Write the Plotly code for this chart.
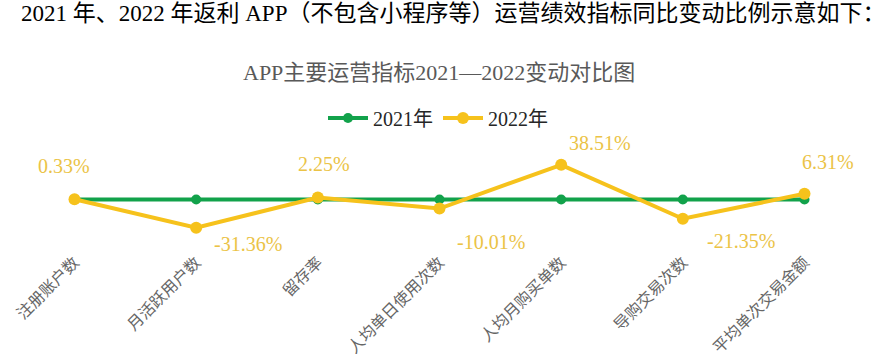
import plotly.graph_objects as go

categories = ["注册账户数", "月活跃用户数", "留存率", "人均单日使用次数", "人均月购买单数", "导购交易次数", "平均单次交易金额"]
values_2021 = [0, 0, 0, 0, 0, 0, 0]
values_2022 = [0.33, -31.36, 2.25, -10.01, 38.51, -21.35, 6.31]
labels_2022 = ["0.33%", "-31.36%", "2.25%", "-10.01%", "38.51%", "-21.35%", "6.31%"]
series_names = ["2021年", "2022年"]

# label offsets in px (style)
label_dx = [-11, 52, 6, 51, 39, 58, 23]
label_dy = [33, -16, 33, -33, 22, -22, 32]

GREEN = "#12A24B"
YELLOW = "#F6C21C"
LABEL = "#EBC346"
CJK = "Liberation Serif, Noto Sans CJK SC, serif"

W, H = 891, 359
T, B = 150, 110
L, R = 38, 50
plot_h = H - T - B
plot_w = W - L - R

def py(pixel_y):
    return (H - B - pixel_y) / plot_h

def px(pixel_x):
    return (pixel_x - L) / plot_w

fig = go.Figure()
fig.add_trace(go.Scatter(
    x=categories, y=values_2021, name=series_names[0], mode="lines+markers",
    line=dict(color=GREEN, width=4), marker=dict(color=GREEN, size=10),
))
fig.add_trace(go.Scatter(
    x=categories, y=values_2022, name=series_names[1], mode="lines+markers",
    line=dict(color=YELLOW, width=4), marker=dict(color=YELLOW, size=12),
))

for c, v, t, dx, dy in zip(categories, values_2022, labels_2022, label_dx, label_dy):
    fig.add_annotation(x=c, y=v, text=t, showarrow=False, xshift=dx, yshift=dy,
                       font=dict(family=CJK, size=20, color=LABEL))

fig.add_annotation(xref="paper", yref="paper", x=px(453), y=py(13), xanchor="center", yanchor="middle",
                   text="2021 年、2022 年返利 APP（不包含小程序等）运营绩效指标同比变动比例示意如下：",
                   showarrow=False, font=dict(family=CJK, size=23, color="#000000"))
fig.add_annotation(xref="paper", yref="paper", x=px(439), y=py(72), xanchor="center", yanchor="middle",
                   text="APP主要运营指标2021—2022变动对比图",
                   showarrow=False, font=dict(family=CJK, size=22, color="#595959"))

fig.update_layout(
    width=W, height=H,
    margin=dict(l=L, r=R, t=T, b=B, autoexpand=False),
    paper_bgcolor="white", plot_bgcolor="white",
    showlegend=True,
    legend=dict(orientation="h", x=px(438), xanchor="center", y=py(118), yanchor="middle",
                font=dict(family=CJK, size=20, color="#262626"), itemwidth=40,
                bgcolor="rgba(0,0,0,0)"),
    xaxis=dict(type="category", range=[-0.3, 6.3], showgrid=False, zeroline=False, showline=False,
               ticks="", tickangle=-45, automargin=False,
               tickfont=dict(family=CJK, size=16, color="#666666")),
    yaxis=dict(range=[-55, 55], visible=False, showgrid=False, zeroline=False),
)

fig.write_html("out.html", config={"displayModeBar": False},
               post_script="document.body.style.margin='0';document.body.style.overflow='hidden';")
